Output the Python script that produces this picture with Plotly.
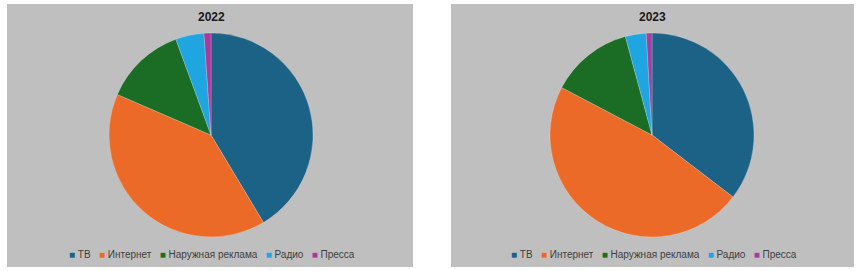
import plotly.graph_objects as go

W, H = 862, 271

categories = ["ТВ", "Интернет", "Наружная реклама", "Радио", "Пресса"]
values_2022 = [41.4, 40.1, 12.9, 4.5, 1.1]
values_2023 = [35.4, 47.3, 13.1, 3.3, 0.9]
years = ["2022", "2023"]
colors = ["#1c6186", "#ec6a28", "#1b6d26", "#1fa6e0", "#a63c9f"]

# panel boxes in pixels (left, top, right, bottom)
panels = [(7, 4, 413, 267), (451, 4, 854, 267)]
pie_centers = [(211, 135), (652, 135)]
radius = 102
legend_centers = [212, 654]


def px(x):
    return x / W


def py(y):
    return 1 - y / H


fig = go.Figure()
shapes = []
annotations = []
for i, (yr, vals) in enumerate(zip(years, [values_2022, values_2023])):
    cx, cy = pie_centers[i]
    fig.add_trace(go.Pie(
        labels=categories,
        values=vals,
        sort=False,
        direction="clockwise",
        rotation=0,
        textinfo="none",
        hoverinfo="label+percent",
        marker=dict(colors=colors, line=dict(color="rgba(255,255,255,0.35)", width=0.6)),
        domain=dict(x=[px(cx - radius), px(cx + radius)], y=[py(cy + radius), py(cy - radius)]),
        showlegend=False,
        name=yr,
    ))
    l, t, r, b = panels[i]
    shapes.append(dict(type="rect", xref="paper", yref="paper",
                       x0=px(l), x1=px(r), y0=py(b), y1=py(t),
                       fillcolor="#bfbfbf", line=dict(width=0), layer="below"))
    annotations.append(dict(text="<b>" + yr + "</b>", xref="paper", yref="paper",
                            x=px(cx), y=py(17), xanchor="center", yanchor="middle",
                            showarrow=False,
                            font=dict(family="Liberation Sans", size=12, color="#1a1a1a")))
    sp = "\u00a0" * 3
    legend_text = sp.join(
        f"<span style='color:{c}'>■</span>\u00a0{lab}" for lab, c in zip(categories, colors)
    )
    annotations.append(dict(text=legend_text, xref="paper", yref="paper",
                            x=px(legend_centers[i]), y=py(254), xanchor="center",
                            yanchor="middle", showarrow=False,
                            font=dict(family="Liberation Sans", size=10, color="#404040")))

fig.update_layout(
    width=W, height=H,
    margin=dict(l=0, r=0, t=0, b=0),
    paper_bgcolor="white",
    plot_bgcolor="white",
    shapes=shapes,
    annotations=annotations,
    showlegend=False,
)

fig.write_html("out.html")
